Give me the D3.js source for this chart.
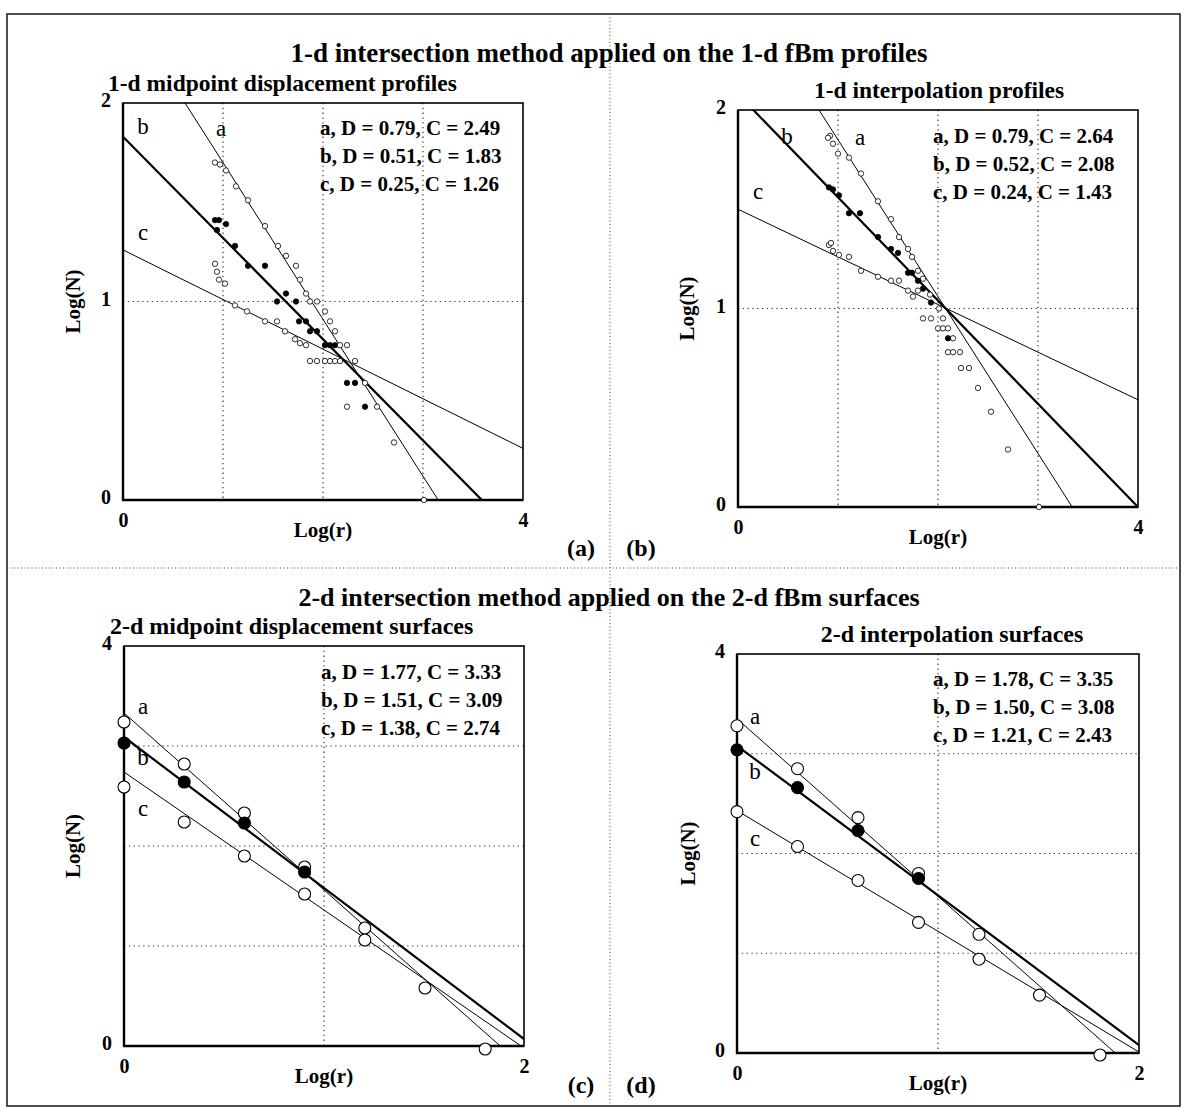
<!DOCTYPE html>
<html>
<head>
  <meta charset="UTF-8">
  <title>Intersection method on fBm profiles and surfaces</title>
  <script src="https://cdn.jsdelivr.net/npm/d3@7"></script>
  <style>
    body { margin: 0; background: #fff; }
    svg text { font-family: "Liberation Serif", "Times New Roman", serif; fill: #000; }
  </style>
</head>
<body>
<svg id="chart" width="1186" height="1115"></svg>
<script>
// ---- titles ----
const topTitle = "1-d intersection method applied on the 1-d fBm profiles";
const bottomTitle = "2-d intersection method applied on the 2-d fBm surfaces";
const subtitles = ["1-d midpoint displacement profiles", "1-d interpolation profiles",
                   "2-d midpoint displacement surfaces", "2-d interpolation surfaces"];
const panelTags = ["(a)", "(b)", "(c)", "(d)"];
const seriesNames = ["a", "b", "c"];

// ---- (a) 1-d midpoint displacement profiles ----
const legendA = ["a, D = 0.79, C = 2.49", "b, D = 0.51, C = 1.83", "c, D = 0.25, C = 1.26"];
const slopesA = [0.79, 0.51, 0.25];
const interceptsA = [2.49, 1.83, 1.26];
const pointsAa = [[0.92,1.70],[0.97,1.69],[1.03,1.66],[1.13,1.58],[1.25,1.51],[1.42,1.38],[1.55,1.28],
  [1.63,1.23],[1.73,1.18],[1.77,1.11],[1.83,1.04],[1.87,1.00],[1.94,1.00],[2.02,0.95],[2.07,0.90],
  [2.12,0.85],[2.24,0.78],[2.32,0.70],[2.42,0.59],[2.54,0.47],[2.71,0.29],[3.01,0]];
const pointsAb = [[0.92,1.41],[0.96,1.41],[0.94,1.36],[1.03,1.39],[1.12,1.28],[1.25,1.18],[1.42,1.18],
  [1.54,1.00],[1.63,1.04],[1.73,1.00],[1.76,0.90],[1.83,0.90],[1.87,0.85],[1.94,0.85],[2.02,0.78],
  [2.07,0.78],[2.12,0.78],[2.24,0.59],[2.32,0.59],[2.42,0.47]];
const pointsAc = [[0.92,1.19],[0.94,1.15],[0.96,1.11],[1.02,1.09],[1.12,0.98],[1.24,0.95],[1.42,0.90],
  [1.54,0.90],[1.62,0.85],[1.72,0.81],[1.77,0.79],[1.83,0.78],[1.87,0.70],[1.94,0.70],[2.02,0.70],
  [2.07,0.70],[2.12,0.70],[2.17,0.70],[2.17,0.78],[2.24,0.47]];

// ---- (b) 1-d interpolation profiles ----
const legendB = ["a, D = 0.79, C = 2.64", "b, D = 0.52, C = 2.08", "c, D = 0.24, C = 1.43"];
const slopesB = [0.79, 0.52, 0.24];
const interceptsB = [2.64, 2.08, 1.50];   // c as drawn in the figure
const pointsBa = [[0.92,1.87],[0.90,1.86],[0.95,1.83],[1.00,1.78],[1.11,1.76],[1.23,1.68],[1.40,1.54],
  [1.53,1.45],[1.61,1.36],[1.70,1.30],[1.74,1.26],[1.80,1.19],[1.85,1.15],[1.92,1.07],[2.01,1.00],
  [1.85,0.95],[1.93,0.95],[2.05,0.95],[2.00,0.90],[2.05,0.90],[2.10,0.90],[2.15,0.85],[2.10,0.78],
  [2.15,0.78],[2.22,0.78],[2.23,0.70],[2.31,0.70],[2.40,0.60],[2.53,0.48],[2.70,0.29],[3.01,0]];
const pointsBb = [[0.91,1.61],[0.95,1.60],[1.01,1.57],[1.11,1.48],[1.22,1.48],[1.40,1.36],[1.53,1.30],
  [1.60,1.28],[1.70,1.18],[1.74,1.18],[1.80,1.14],[1.85,1.10],[1.93,1.03],[2.10,0.85]];
const pointsBc = [[0.91,1.32],[0.93,1.33],[0.95,1.29],[1.01,1.27],[1.11,1.26],[1.23,1.19],[1.40,1.16],
  [1.53,1.14],[1.61,1.14],[1.70,1.09],[1.80,1.09],[1.75,1.06]];

// ---- (c) 2-d midpoint displacement surfaces ----
const legendC = ["a, D = 1.77, C = 3.33", "b, D = 1.51, C = 3.09", "c, D = 1.38, C = 2.74"];
const slopesC = [1.77, 1.51, 1.38];
const interceptsC = [3.33, 3.09, 2.74];
const pointsCa = [[0,3.24],[0.301,2.82],[0.602,2.33],[0.903,1.79],[1.204,1.18],[1.505,0.58],[1.806,-0.03]];
const pointsCb = [[0,3.03],[0.301,2.64],[0.602,2.23],[0.903,1.74]];
const pointsCc = [[0,2.59],[0.301,2.24],[0.602,1.90],[0.903,1.52],[1.204,1.06]];

// ---- (d) 2-d interpolation surfaces ----
const legendD = ["a, D = 1.78, C = 3.35", "b, D = 1.50, C = 3.08", "c, D = 1.21, C = 2.43"];
const slopesD = [1.78, 1.50, 1.21];
const interceptsD = [3.35, 3.08, 2.43];
const pointsDa = [[0,3.28],[0.301,2.85],[0.602,2.36],[0.903,1.80],[1.204,1.19],[1.505,0.58],[1.806,-0.02]];
const pointsDb = [[0,3.04],[0.301,2.66],[0.602,2.23],[0.903,1.75]];
const pointsDc = [[0,2.42],[0.301,2.07],[0.602,1.73],[0.903,1.31],[1.204,0.94]];

const svg = d3.select('#chart');

// outer frame and the dotted cross that splits the four panels
svg.append('rect')
  .attr('x', 7).attr('y', 14).attr('width', 1173).attr('height', 1092)
  .attr('fill', 'none').attr('stroke', '#222').attr('stroke-width', 1.6);
svg.append('line').attr('x1', 610).attr('x2', 610).attr('y1', 14).attr('y2', 1106)
  .attr('stroke', '#444').attr('stroke-width', 1).attr('stroke-dasharray', '1 2.5');
svg.append('line').attr('x1', 7).attr('x2', 1180).attr('y1', 568).attr('y2', 568)
  .attr('stroke', '#444').attr('stroke-width', 1).attr('stroke-dasharray', '1 2.5');

svg.append('text').attr('x', 609).attr('y', 62).attr('text-anchor', 'middle')
  .attr('font-size', 27).attr('font-weight', 'bold').text(topTitle);
svg.append('text').attr('x', 609).attr('y', 606).attr('text-anchor', 'middle')
  .attr('font-size', 26).attr('font-weight', 'bold').text(bottomTitle);

function drawPanel(p)
{
  const x = d3.scaleLinear().domain(p.xDomain).range([p.left, p.left + p.width]);
  const y = d3.scaleLinear().domain(p.yDomain).range([p.top + p.height, p.top]);
  const g = svg.append('g');

  g.append('clipPath').attr('id', 'clip' + p.id)
    .append('rect').attr('x', p.left).attr('y', p.top).attr('width', p.width).attr('height', p.height);

  // dotted grid
  g.selectAll(null).data(p.xGrid).enter().append('line')
    .attr('x1', d => x(d)).attr('x2', d => x(d)).attr('y1', p.top).attr('y2', p.top + p.height)
    .attr('stroke', '#333').attr('stroke-width', 1.2).attr('stroke-dasharray', '1.3 3.5');
  g.selectAll(null).data(p.yGrid).enter().append('line')
    .attr('y1', d => y(d)).attr('y2', d => y(d)).attr('x1', p.left).attr('x2', p.left + p.width)
    .attr('stroke', '#333').attr('stroke-width', 1.2).attr('stroke-dasharray', '1.3 3.5');

  // fitted lines  log(N) = C - D log(r)
  const line = d3.line().x(d => x(d[0])).y(d => y(d[1]));
  p.slopes.forEach((D, i) =>
  {
    g.append('path')
      .datum(p.xDomain.map(v => [v, p.intercepts[i] - D * v]))
      .attr('d', line)
      .attr('clip-path', `url(#clip${p.id})`)
      .attr('fill', 'none').attr('stroke', '#000')
      .attr('stroke-width', i === 1 ? 2.2 : 1);
  });

  // plot box
  g.append('rect').attr('x', p.left).attr('y', p.top).attr('width', p.width).attr('height', p.height)
    .attr('fill', 'none').attr('stroke', '#000').attr('stroke-width', 1.6);
  g.append('path')
    .attr('d', `M${p.left},${p.top}V${p.top + p.height}H${p.left + p.width}`)
    .attr('fill', 'none').attr('stroke', '#000').attr('stroke-width', 2.4);

  // points: a and c open, b filled
  p.points.forEach((pts, i) =>
  {
    g.selectAll(null).data(pts).enter().append('circle')
      .attr('cx', d => x(d[0])).attr('cy', d => y(d[1])).attr('r', p.radius)
      .attr('fill', i === 1 ? '#000' : '#fff')
      .attr('stroke', '#000').attr('stroke-width', p.radius > 4 ? 1.1 : 0.8);
  });

  // tick labels
  const yAxis = g.append('g').attr('transform', `translate(${p.left},0)`)
    .call(d3.axisLeft(y).tickValues(p.yTicks).tickSize(0).tickPadding(12).tickFormat(d3.format('d')));
  const xAxis = g.append('g').attr('transform', `translate(0,${p.top + p.height})`)
    .call(d3.axisBottom(x).tickValues(p.xTicks).tickSize(0).tickPadding(13).tickFormat(d3.format('d')));
  [yAxis, xAxis].forEach(a =>
  {
    a.select('.domain').remove();
    a.selectAll('text').attr('font-size', 20).attr('font-weight', 'bold')
      .attr('font-family', '"Liberation Serif", serif').attr('fill', '#000');
  });
  yAxis.selectAll('text').attr('dy', '0.18em');

  g.append('text').attr('x', p.left + p.width / 2).attr('y', p.top + p.height + 37)
    .attr('text-anchor', 'middle').attr('font-size', 21).attr('font-weight', 'bold').text('Log(r)');
  g.append('text').attr('transform', `translate(${p.yTitleX},${p.top + p.height / 2}) rotate(-90)`)
    .attr('text-anchor', 'middle').attr('font-size', 21).attr('font-weight', 'bold').text('Log(N)');

  // subtitle
  g.append('text').attr('x', p.subX).attr('y', p.top - 12).attr('text-anchor', p.subAnchor)
    .attr('font-size', p.subSize).attr('font-weight', 'bold').text(p.subtitle);

  // curve letters
  p.letterPos.forEach((pos, i) =>
  {
    g.append('text').attr('x', pos[0]).attr('y', pos[1]).attr('text-anchor', 'middle')
      .attr('font-size', 23).text(seriesNames[i]);
  });

  // fit legend
  p.legend.forEach((s, i) =>
  {
    g.append('text').attr('x', p.legendX).attr('y', p.legendY + i * 28)
      .attr('font-size', 21).attr('font-weight', 'bold').text(s);
  });

  g.append('text').attr('x', p.tagX).attr('y', p.tagY).attr('text-anchor', 'middle')
    .attr('font-size', 24).attr('font-weight', 'bold').text(p.tag);
}

drawPanel({ id: 'a', left: 123, top: 103, width: 400, height: 397,
  xDomain: [0, 4], yDomain: [0, 2], xGrid: [1, 2, 3], yGrid: [1], xTicks: [0, 4], yTicks: [0, 1, 2],
  slopes: slopesA, intercepts: interceptsA, points: [pointsAa, pointsAb, pointsAc], radius: 2.7,
  legend: legendA, legendX: 320, legendY: 135, yTitleX: 80,
  letterPos: [[221, 136], [143, 134], [143, 240]],
  subtitle: subtitles[0], subX: 108, subAnchor: 'start', subSize: 23.5,
  tag: panelTags[0], tagX: 581, tagY: 556 });

drawPanel({ id: 'b', left: 738, top: 110, width: 400, height: 397,
  xDomain: [0, 4], yDomain: [0, 2], xGrid: [1, 2, 3], yGrid: [1], xTicks: [0, 4], yTicks: [0, 1, 2],
  slopes: slopesB, intercepts: interceptsB, points: [pointsBa, pointsBb, pointsBc], radius: 2.7,
  legend: legendB, legendX: 933, legendY: 143, yTitleX: 694,
  letterPos: [[860, 145], [787, 144], [758, 199]],
  subtitle: subtitles[1], subX: 939, subAnchor: 'middle', subSize: 23.5,
  tag: panelTags[1], tagX: 641, tagY: 556 });

drawPanel({ id: 'c', left: 124, top: 646, width: 400, height: 400,
  xDomain: [0, 2], yDomain: [0, 4], xGrid: [1], yGrid: [1, 2, 3], xTicks: [0, 2], yTicks: [0, 4],
  slopes: slopesC, intercepts: interceptsC, points: [pointsCa, pointsCb, pointsCc], radius: 6,
  legend: legendC, legendX: 321, legendY: 679, yTitleX: 80,
  letterPos: [[143, 714], [143, 765], [143, 816]],
  subtitle: subtitles[2], subX: 110, subAnchor: 'start', subSize: 24,
  tag: panelTags[2], tagX: 581, tagY: 1093 });

drawPanel({ id: 'd', left: 737, top: 654, width: 402, height: 399,
  xDomain: [0, 2], yDomain: [0, 4], xGrid: [1], yGrid: [1, 2, 3], xTicks: [0, 2], yTicks: [0, 4],
  slopes: slopesD, intercepts: interceptsD, points: [pointsDa, pointsDb, pointsDc], radius: 6,
  legend: legendD, legendX: 933, legendY: 686, yTitleX: 695,
  letterPos: [[755, 724], [755, 779], [755, 846]],
  subtitle: subtitles[3], subX: 952, subAnchor: 'middle', subSize: 24,
  tag: panelTags[3], tagX: 641, tagY: 1093 });
</script>
</body>
</html>
